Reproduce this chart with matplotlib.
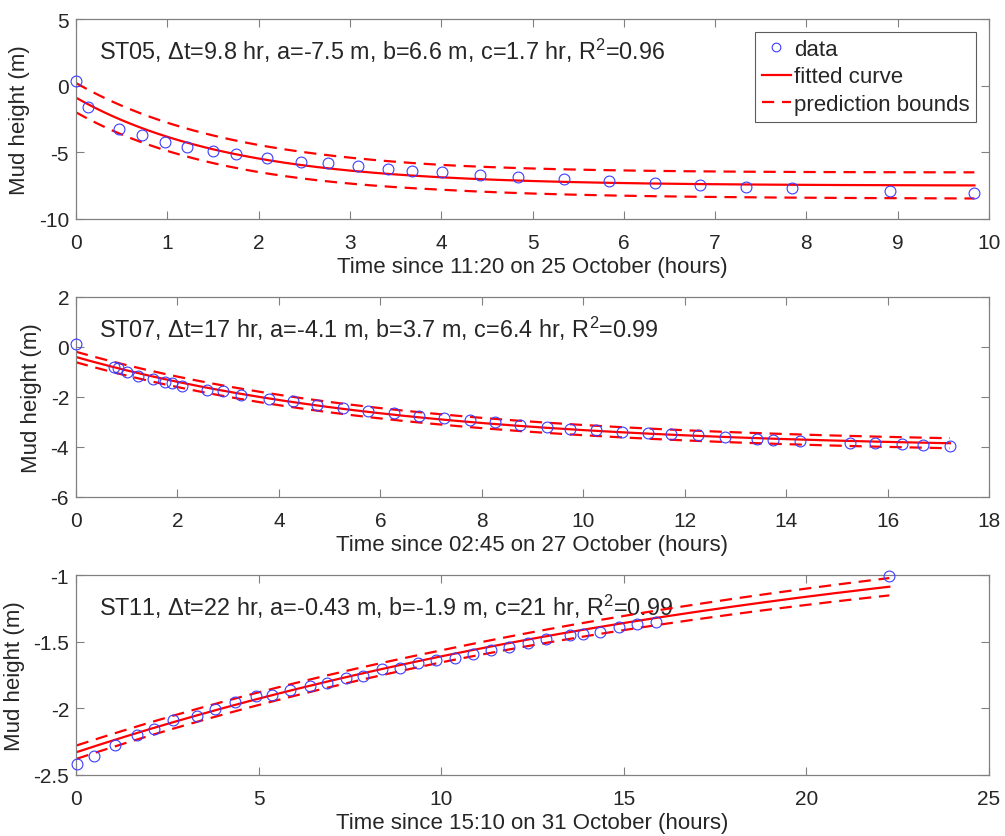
import numpy as np
import matplotlib
matplotlib.use("Agg")
import matplotlib.pyplot as plt

plt.rcParams['font.family'] = ['Liberation Sans', 'DejaVu Sans']
plt.rcParams['mathtext.fontset'] = 'custom'
plt.rcParams['mathtext.rm'] = 'Liberation Sans'

# ---------------- data ----------------
st05_t = [0, 0.135, 0.47, 0.72, 0.97, 1.22, 1.50, 1.75, 2.09, 2.46, 2.76, 3.09, 3.42,
          3.68, 4.01, 4.42, 4.84, 5.35, 5.84, 6.34, 6.84, 7.34, 7.84, 8.92, 9.84]
st05_y = [0.37, -1.62, -3.25, -3.7, -4.2, -4.57, -4.9, -5.15, -5.45, -5.7, -5.83, -6.05,
          -6.25, -6.37, -6.45, -6.67, -6.87, -7.02, -7.17, -7.32, -7.47, -7.6, -7.67,
          -7.92, -8.07]

st07_t = [0, 0.74, 0.83, 1.0, 1.23, 1.52, 1.75, 1.89, 2.08, 2.58, 2.90, 3.25, 3.80,
          4.27, 4.75, 5.26, 5.76, 6.26, 6.77, 7.26, 7.77, 8.26, 8.76, 9.28, 9.74, 10.25,
          10.76, 11.27, 11.74, 12.27, 12.8, 13.42, 13.75, 14.27, 15.26, 15.75, 16.28,
          16.7, 17.23]
st07_y = [0.13, -0.78, -0.84, -1.0, -1.16, -1.27, -1.38, -1.43, -1.54, -1.70, -1.75,
          -1.91, -2.07, -2.16, -2.30, -2.43, -2.54, -2.63, -2.74, -2.83, -2.91, -3.0,
          -3.10, -3.2, -3.27, -3.31, -3.40, -3.44, -3.49, -3.53, -3.6, -3.67, -3.71,
          -3.76, -3.83, -3.84, -3.87, -3.9, -3.94]

st11_t = [0.02, 0.49, 1.07, 1.66, 2.14, 2.66, 3.30, 3.80, 4.35, 4.94, 5.38, 5.86, 6.42,
          6.86, 7.38, 7.86, 8.39, 8.87, 9.37, 9.86, 10.38, 10.86, 11.37, 11.86, 12.37,
          12.87, 13.53, 13.87, 14.35, 14.88, 15.37, 15.87, 22.27]
st11_y = [-2.42, -2.36, -2.275, -2.20, -2.155, -2.09, -2.06, -2.005, -1.955, -1.91,
          -1.90, -1.86, -1.835, -1.81, -1.775, -1.76, -1.705, -1.70, -1.66, -1.64,
          -1.62, -1.59, -1.56, -1.54, -1.51, -1.48, -1.45, -1.44, -1.425, -1.39, -1.37,
          -1.35, -1.01]

# fit parameters shown on the chart: y = a + b*exp(-t/c)
fit_a = [-7.5, -4.1, -0.43]
fit_b = [6.6, 3.7, -1.9]
fit_c = [1.7, 6.4, 21]

# prediction-bound half widths (knot times, widths)
pb_t = [[0, 4, 9.84], [0, 17.23], [0, 10, 22.27]]
pb_w = [[1.1, 0.93, 0.98], [0.21, 0.2], [0.05, 0.045, 0.065]]

labels = [r"ST05, $\Delta$t=9.8 hr, a=-7.5 m, b=6.6 m, c=1.7 hr, R$^2$=0.96",
          r"ST07, $\Delta$t=17 hr, a=-4.1 m, b=3.7 m, c=6.4 hr, R$^2$=0.99",
          r"ST11, $\Delta$t=22 hr, a=-0.43 m, b=-1.9 m, c=21 hr, R$^2$=0.99"]
xlabels = ["Time since 11:20 on 25 October (hours)",
           "Time since 02:45 on 27 October (hours)",
           "Time since 15:10 on 31 October (hours)"]
xlims = [(0, 10), (0, 18), (0, 25)]
xticks = [list(range(0, 11, 1)), list(range(0, 19, 2)), list(range(0, 26, 5))]
ylims = [(-10, 5), (-6, 2), (-2.5, -1)]
yticks = [[-10, -5, 0, 5], [-6, -4, -2, 0, 2], [-2.5, -2, -1.5, -1]]
yticklabels = [["-10", "-5", "0", "5"], ["-6", "-4", "-2", "0", "2"],
               ["-2.5", "-2", "-1.5", "-1"]]

series_t = [st05_t, st07_t, st11_t]
series_y = [st05_y, st07_y, st11_y]

# ---------------- figure ----------------
W, H = 1005, 837
fig = plt.figure(figsize=(W / 100, H / 100), dpi=100)
tops = [20, 298, 576]
left, right = 76, 989
ph = 200

red = '#ff0000'
blue = '#3c3cff'
spine = '#808080'
txt = '#262626'

for i in range(3):
    ax = fig.add_axes([left / W, 1 - (tops[i] + ph) / H, (right - left) / W, ph / H])
    t = np.asarray(series_t[i], float)
    y = np.asarray(series_y[i], float)
    tf = np.linspace(t.min(), t.max(), 400)
    yf = fit_a[i] + fit_b[i] * np.exp(-tf / fit_c[i])
    w = np.interp(tf, pb_t[i], pb_w[i])
    ax.plot(t, y, 'o', ms=7.8, mfc='none', mec=blue, mew=0.8, label='data', zorder=3,
            clip_on=False)
    ax.plot(tf, yf, '-', color=red, lw=1.6, label='fitted curve', zorder=2)
    ax.plot(tf, yf + w, color=red, lw=1.6, ls=(0, (5.5, 3.5)), label='prediction bounds', zorder=2)
    ax.plot(tf, yf - w, color=red, lw=1.6, ls=(0, (5.5, 3.5)), zorder=2)

    ax.set_xlim(*xlims[i])
    ax.set_ylim(*ylims[i])
    ax.set_xticks(xticks[i])
    ax.set_yticks(yticks[i])
    ax.set_yticklabels(yticklabels[i])
    ax.tick_params(direction='in', top=True, right=True, length=6, width=0.8,
                   color=spine, labelsize=15, labelcolor=txt)
    ax.tick_params(axis='x', pad=10)
    ax.tick_params(axis='y', pad=5)
    for s in ax.spines.values():
        s.set_color(spine)
        s.set_linewidth(0.9)
    ax.set_xlabel(xlabels[i], fontsize=16, color=txt, labelpad=3)
    ax.set_ylabel("Mud height (m)", fontsize=16, color=txt, labelpad=6)
    ax.text(0.025, 0.845, labels[i], transform=ax.transAxes, fontsize=16.8,
            color=txt, va='center', ha='left', zorder=1)
    if i == 0:
        leg = ax.legend(loc='upper right', bbox_to_anchor=(0.986, 0.935),
                        borderaxespad=0, fontsize=16, fancybox=False, frameon=True,
                        handlelength=1.3, handletextpad=0.15, labelspacing=0.3,
                        borderpad=0.3, markerscale=0.8)
        leg.get_frame().set_edgecolor('#333333')
        leg.get_frame().set_linewidth(0.8)
        for tx in leg.get_texts():
            tx.set_color(txt)

fig.savefig("out.png", dpi=100)
